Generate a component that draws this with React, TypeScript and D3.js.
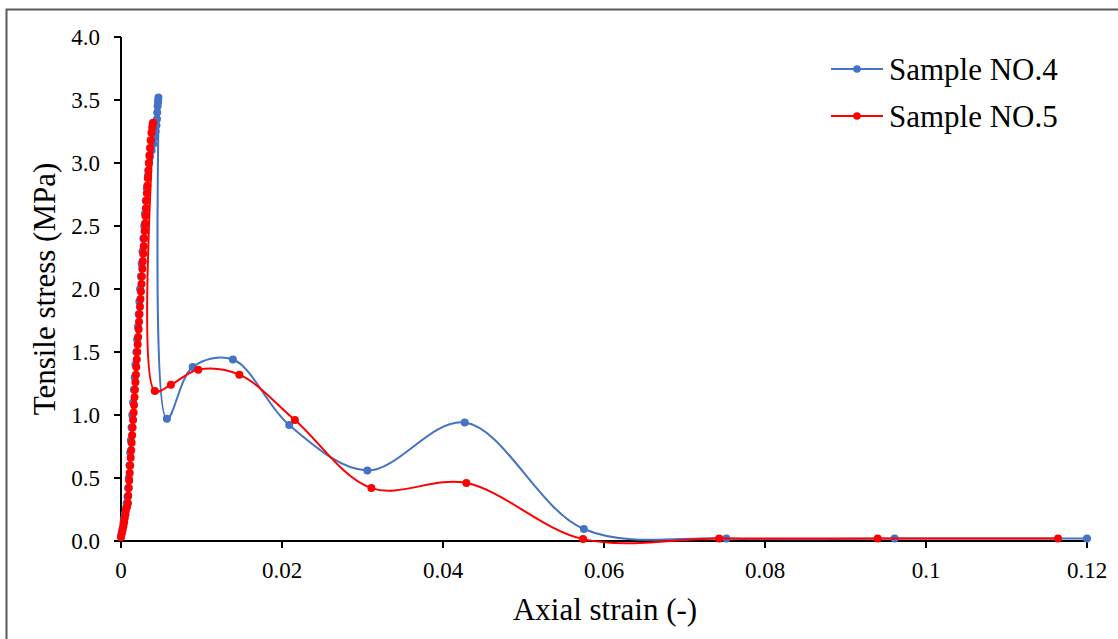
import React from "react";
import * as d3 from "d3";

// Sample NO.4 (blue)
const sample4Strain = [
  0, 0.0001, 0.0002, 0.0003, 0.0004, 0.0005, 0.0006, 0.0007, 0.0008, 0.00088,
  0.00096, 0.00105, 0.00114, 0.00122, 0.00131, 0.0014, 0.0015, 0.0016,
  0.0017, 0.0018, 0.0019, 0.002, 0.0021, 0.00219, 0.00228, 0.00237,
  0.00247, 0.00257, 0.00267, 0.00278, 0.00288, 0.00298, 0.00308, 0.0032,
  0.00335, 0.0035, 0.0036, 0.0038, 0.004, 0.0042, 0.0043, 0.0044, 0.00447,
  0.0045, 0.00455, 0.0046, 0.00462, 0.00465,
  0.0057, 0.0089, 0.0139, 0.0209, 0.0306, 0.0427, 0.0575, 0.0752, 0.0961, 0.12,
];
const sample4Stress = [
  0.04, 0.07, 0.1, 0.14, 0.18, 0.22, 0.26, 0.3, 0.35, 0.42, 0.5, 0.6, 0.7,
  0.8, 0.9, 1.0, 1.1, 1.2, 1.3, 1.4, 1.5, 1.6, 1.7, 1.8, 1.9, 2.0, 2.1, 2.2,
  2.3, 2.4, 2.5, 2.6, 2.7, 2.8, 2.9, 3.0, 3.05, 3.1, 3.15, 3.2, 3.25, 3.3,
  3.35, 3.4, 3.45, 3.48, 3.5, 3.52,
  0.97, 1.38, 1.44, 0.92, 0.56, 0.94, 0.095, 0.02, 0.02, 0.02,
];

// Sample NO.5 (red)
const sample5Strain = [
  0, 0.0001, 0.0002, 0.0003, 0.0004, 0.00045, 0.00055, 0.0006, 0.00075,
  0.00086, 0.0009, 0.00097, 0.00102, 0.00108, 0.00114, 0.0012, 0.00126,
  0.00132, 0.00138, 0.00144, 0.0015, 0.00157, 0.00162, 0.00168, 0.00173,
  0.00179, 0.00185, 0.0019, 0.00196, 0.00202, 0.00207, 0.00213, 0.00219,
  0.00224, 0.0023, 0.00236, 0.00242, 0.00248, 0.00254, 0.00259, 0.00265,
  0.0027, 0.00276, 0.00282, 0.00287, 0.00293, 0.00299, 0.00304, 0.0031,
  0.00315, 0.00321, 0.00327, 0.00333, 0.00339, 0.00345, 0.00352, 0.0036,
  0.00368, 0.00378, 0.00387, 0.00394, 0.00398,
  0.0042, 0.0062, 0.0096, 0.0147, 0.0216, 0.0311, 0.0429, 0.0574, 0.0743,
  0.094, 0.1164,
];
const sample5Stress = [
  0.03, 0.06, 0.09, 0.12, 0.15, 0.18, 0.21, 0.24, 0.27, 0.3, 0.36, 0.42, 0.48,
  0.54, 0.6, 0.66, 0.72, 0.78, 0.84, 0.9, 0.96, 1.02, 1.08, 1.14, 1.2, 1.26,
  1.32, 1.38, 1.44, 1.5, 1.56, 1.62, 1.68, 1.74, 1.8, 1.86, 1.92, 1.98, 2.04,
  2.1, 2.16, 2.22, 2.28, 2.34, 2.4, 2.46, 2.52, 2.58, 2.64, 2.7, 2.76, 2.82,
  2.88, 2.94, 3.0, 3.06, 3.12, 3.18, 3.24, 3.28, 3.31, 3.32,
  1.19, 1.24, 1.36, 1.32, 0.96, 0.42, 0.46, 0.015, 0.02, 0.02, 0.02,
];

const xTicks = [0, 0.02, 0.04, 0.06, 0.08, 0.1, 0.12];
const xTickLabels = ["0", "0.02", "0.04", "0.06", "0.08", "0.1", "0.12"];
const yTicks = [0, 0.5, 1, 1.5, 2, 2.5, 3, 3.5, 4];
const yTickLabels = ["0.0", "0.5", "1.0", "1.5", "2.0", "2.5", "3.0", "3.5", "4.0"];

const seriesNames = ["Sample NO.4", "Sample NO.5"];
const seriesColors = ["#4472C4", "#FF0000"];

const W = 1118;
const H = 639;
const left = 121;
const right = 1087;
const top = 37;
const bottom = 541;
const FONT = "Liberation Serif, Times New Roman, DejaVu Serif, serif";
const txt = { fontFamily: FONT };

export default function App() {
  const x = d3.scaleLinear().domain([0, 0.12]).range([left, right]);
  const y = d3.scaleLinear().domain([0, 4]).range([bottom, top]);
  const line = d3
    .line<[number, number]>()
    .x((d) => x(d[0]))
    .y((d) => y(d[1]))
    .curve(d3.curveCatmullRom.alpha(0.5));

  const series = [
    sample4Strain.map((s, i) => [s, sample4Stress[i]] as [number, number]),
    sample5Strain.map((s, i) => [s, sample5Stress[i]] as [number, number]),
  ];

  return (
    <svg
      width={W}
      height={H}
      style={{ position: "absolute", left: 0, top: 0, background: "#fff" }}
    >
      <rect x={0} y={0} width={W} height={H} fill="#fff" />
      <rect x={6.5} y={9.5} width={1300} height={1000} fill="none" stroke="#595959" strokeWidth={2} />

      {/* axes */}
      <line x1={left} x2={left} y1={top} y2={bottom} stroke="#000" strokeWidth={2} />
      <line x1={left} x2={right} y1={bottom} y2={bottom} stroke="#000" strokeWidth={2} />
      {yTicks.map((t, i) => (
        <g key={"y" + i}>
          <line x1={left - 7} x2={left} y1={y(t)} y2={y(t)} stroke="#000" strokeWidth={2} />
          <text x={100} y={y(t)} dy="0.35em" textAnchor="end" fontSize={23} fill="#000" style={txt}>
            {yTickLabels[i]}
          </text>
        </g>
      ))}
      {xTicks.map((t, i) => (
        <g key={"x" + i}>
          <line x1={x(t)} x2={x(t)} y1={bottom} y2={bottom + 7} stroke="#000" strokeWidth={2} />
          <text x={x(t)} y={578} textAnchor="middle" fontSize={23} fill="#000" style={txt}>
            {xTickLabels[i]}
          </text>
        </g>
      ))}

      {/* series */}
      {series.map((data, si) => (
        <g key={"s" + si}>
          <path d={line(data) || ""} fill="none" stroke={seriesColors[si]} strokeWidth={2} />
          {data.map((d, i) => (
            <circle key={i} cx={x(d[0])} cy={y(d[1])} r={4} fill={seriesColors[si]} />
          ))}
        </g>
      ))}

      {/* titles */}
      <text x={605} y={620} textAnchor="middle" fontSize={31} fill="#000" style={txt}>
        Axial strain (-)
      </text>
      <text
        transform={`translate(55, 289) rotate(-90)`}
        textAnchor="middle"
        fontSize={31}
        fill="#000"
        style={txt}
      >
        Tensile stress (MPa)
      </text>

      {/* legend */}
      {seriesNames.map((n, i) => (
        <g key={"l" + i} transform={`translate(0, ${69 + i * 47})`}>
          <line x1={831} x2={883} y1={0} y2={0} stroke={seriesColors[i]} strokeWidth={2} />
          <circle cx={857} cy={0} r={3.8} fill={seriesColors[i]} />
          <text x={889} y={0} dy="0.35em" fontSize={31} fill="#000" style={txt}>
            {n}
          </text>
        </g>
      ))}
    </svg>
  );
}
